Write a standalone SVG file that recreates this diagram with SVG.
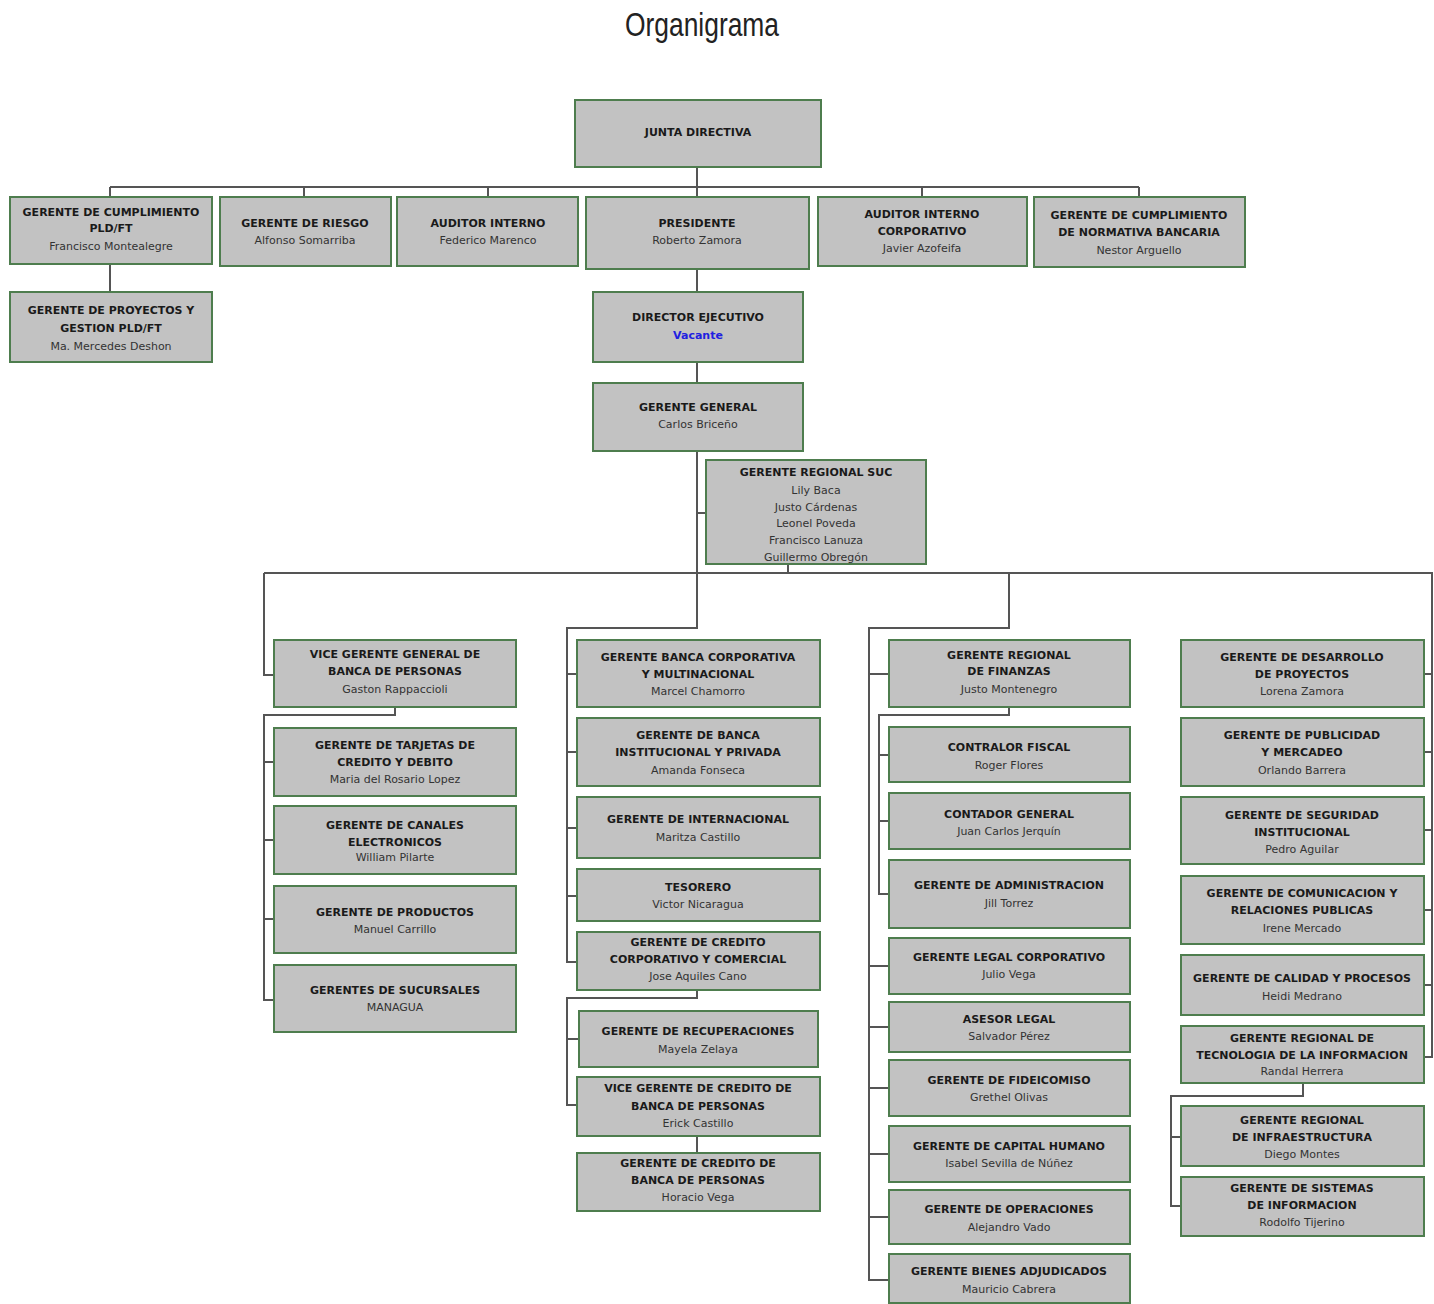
<svg xmlns="http://www.w3.org/2000/svg" width="1434" height="1304" viewBox="0 0 1434 1304">
<style>
.box{fill:#c2c2c2;stroke:#4e7d4e;stroke-width:2}
.t{font-family:"DejaVu Sans",Verdana,sans-serif;font-size:11px;font-weight:bold;fill:#1a1a1a;text-anchor:middle}
.n{font-family:"DejaVu Sans",Verdana,sans-serif;font-size:11px;fill:#333;text-anchor:middle}
.v{font-family:"DejaVu Sans",Verdana,sans-serif;font-size:11px;font-weight:bold;fill:#2020e0;text-anchor:middle}
.c{fill:none;stroke:#555;stroke-width:2}
</style>
<rect width="1434" height="1304" fill="#fff"/>
<text x="702" y="36" font-family="Liberation Sans, Arial, sans-serif" font-size="33" fill="#222" text-anchor="middle" textLength="154" lengthAdjust="spacingAndGlyphs">Organigrama</text>

<g id="connectors" class="c">
<path d="M110 187H1139M110 187V197M304 187V197M488 187V197M697 167V197M922 187V197M1139 187V197"/>
<path d="M110 264V292M697 269V292M697 362V383M697 451V573M697 513H706M788 563V573"/>
<path d="M264 573H1432V1057H1424"/>
<path d="M264 573V675H274M395 707V715H264V1000H274M264 762H274M264 840H274M264 919H274"/>
<path d="M697 573V628H567V962H577M567 674H577M567 752H577M567 828H577M567 896H577"/>
<path d="M697 990V998H567V1105H577M567 1039H579M697 1136V1153"/>
<path d="M1009 573V628H869V1280H889M869 674H889M869 966H889M869 1027H889M869 1088H889M869 1154H889M869 1217H889"/>
<path d="M1009 707V715H879V894H889M879 755H889M879 821H889"/>
<path d="M1432 674H1424M1432 752H1424M1432 830H1424M1432 910H1424M1432 985H1424"/>
<path d="M1303 1083V1096H1171V1206H1181M1171 1137H1181"/>
</g>

<g id="junta"><rect class="box" x="575" y="100" width="246" height="67"/><text class="t" x="698" y="136">JUNTA DIRECTIVA</text></g>

<g id="cumplimiento"><rect class="box" x="10" y="197" width="202" height="67"/><text class="t" x="111" y="216">GERENTE DE CUMPLIMIENTO</text><text class="t" x="111" y="232">PLD/FT</text><text class="n" x="111" y="250">Francisco Montealegre</text></g>
<g id="riesgo"><rect class="box" x="220" y="197" width="171" height="69"/><text class="t" x="305" y="227">GERENTE DE RIESGO</text><text class="n" x="305" y="244">Alfonso Somarriba</text></g>
<g id="auditor"><rect class="box" x="397" y="197" width="181" height="69"/><text class="t" x="488" y="227">AUDITOR INTERNO</text><text class="n" x="488" y="244">Federico Marenco</text></g>
<g id="presidente"><rect class="box" x="586" y="197" width="223" height="72"/><text class="t" x="697" y="227">PRESIDENTE</text><text class="n" x="697" y="244">Roberto Zamora</text></g>
<g id="auditor-corp"><rect class="box" x="818" y="197" width="209" height="69"/><text class="t" x="922" y="218">AUDITOR INTERNO</text><text class="t" x="922" y="235">CORPORATIVO</text><text class="n" x="922" y="252">Javier Azofeifa</text></g>
<g id="normativa"><rect class="box" x="1034" y="197" width="211" height="70"/><text class="t" x="1139" y="219">GERENTE DE CUMPLIMIENTO</text><text class="t" x="1139" y="236">DE NORMATIVA BANCARIA</text><text class="n" x="1139" y="254">Nestor Arguello</text></g>

<g id="proyectos-pld"><rect class="box" x="10" y="292" width="202" height="70"/><text class="t" x="111" y="314">GERENTE DE PROYECTOS Y</text><text class="t" x="111" y="332">GESTION PLD/FT</text><text class="n" x="111" y="350">Ma. Mercedes Deshon</text></g>

<g id="director"><rect class="box" x="593" y="292" width="210" height="70"/><text class="t" x="698" y="321">DIRECTOR EJECUTIVO</text><text class="v" x="698" y="339">Vacante</text></g>
<g id="gerente-general"><rect class="box" x="593" y="383" width="210" height="68"/><text class="t" x="698" y="411">GERENTE GENERAL</text><text class="n" x="698" y="428">Carlos Briceño</text></g>
<g id="regional-suc"><rect class="box" x="706" y="460" width="220" height="104"/><text class="t" x="816" y="476">GERENTE REGIONAL SUC</text><text class="n" x="816" y="494">Lily Baca</text><text class="n" x="816" y="511">Justo Cárdenas</text><text class="n" x="816" y="527">Leonel Poveda</text><text class="n" x="816" y="544">Francisco Lanuza</text><text class="n" x="816" y="561">Guillermo Obregón</text></g>

<g id="vice-personas"><rect class="box" x="274" y="640" width="242" height="67"/><text class="t" x="395" y="658">VICE GERENTE GENERAL DE</text><text class="t" x="395" y="675">BANCA DE PERSONAS</text><text class="n" x="395" y="693">Gaston Rappaccioli</text></g>
<g id="tarjetas"><rect class="box" x="274" y="728" width="242" height="68"/><text class="t" x="395" y="749">GERENTE DE TARJETAS DE</text><text class="t" x="395" y="766">CREDITO Y DEBITO</text><text class="n" x="395" y="783">Maria del Rosario Lopez</text></g>
<g id="canales"><rect class="box" x="274" y="806" width="242" height="68"/><text class="t" x="395" y="829">GERENTE DE CANALES</text><text class="t" x="395" y="846">ELECTRONICOS</text><text class="n" x="395" y="861">William Pilarte</text></g>
<g id="productos"><rect class="box" x="274" y="886" width="242" height="67"/><text class="t" x="395" y="916">GERENTE DE PRODUCTOS</text><text class="n" x="395" y="933">Manuel Carrillo</text></g>
<g id="sucursales"><rect class="box" x="274" y="965" width="242" height="67"/><text class="t" x="395" y="994">GERENTES DE SUCURSALES</text><text class="n" x="395" y="1011">MANAGUA</text></g>

<g id="banca-corporativa"><rect class="box" x="577" y="640" width="243" height="67"/><text class="t" x="698" y="661">GERENTE BANCA CORPORATIVA</text><text class="t" x="698" y="678">Y MULTINACIONAL</text><text class="n" x="698" y="695">Marcel Chamorro</text></g>
<g id="banca-institucional"><rect class="box" x="577" y="718" width="243" height="68"/><text class="t" x="698" y="739">GERENTE DE BANCA</text><text class="t" x="698" y="756">INSTITUCIONAL Y PRIVADA</text><text class="n" x="698" y="774">Amanda Fonseca</text></g>
<g id="internacional"><rect class="box" x="577" y="797" width="243" height="61"/><text class="t" x="698" y="823">GERENTE DE INTERNACIONAL</text><text class="n" x="698" y="841">Maritza Castillo</text></g>
<g id="tesorero"><rect class="box" x="577" y="869" width="243" height="52"/><text class="t" x="698" y="891">TESORERO</text><text class="n" x="698" y="908">Victor Nicaragua</text></g>
<g id="credito-corporativo"><rect class="box" x="577" y="932" width="243" height="58"/><text class="t" x="698" y="946">GERENTE DE CREDITO</text><text class="t" x="698" y="963">CORPORATIVO Y COMERCIAL</text><text class="n" x="698" y="980">Jose Aquiles Cano</text></g>
<g id="recuperaciones"><rect class="box" x="579" y="1011" width="239" height="56"/><text class="t" x="698" y="1035">GERENTE DE RECUPERACIONES</text><text class="n" x="698" y="1053">Mayela Zelaya</text></g>
<g id="vice-credito"><rect class="box" x="577" y="1077" width="243" height="59"/><text class="t" x="698" y="1092">VICE GERENTE DE CREDITO DE</text><text class="t" x="698" y="1110">BANCA DE PERSONAS</text><text class="n" x="698" y="1127">Erick Castillo</text></g>
<g id="credito-personas"><rect class="box" x="577" y="1153" width="243" height="58"/><text class="t" x="698" y="1167">GERENTE DE CREDITO DE</text><text class="t" x="698" y="1184">BANCA DE PERSONAS</text><text class="n" x="698" y="1201">Horacio Vega</text></g>

<g id="finanzas"><rect class="box" x="889" y="640" width="241" height="67"/><text class="t" x="1009" y="659">GERENTE REGIONAL</text><text class="t" x="1009" y="675">DE FINANZAS</text><text class="n" x="1009" y="693">Justo Montenegro</text></g>
<g id="contralor"><rect class="box" x="889" y="727" width="241" height="55"/><text class="t" x="1009" y="751">CONTRALOR FISCAL</text><text class="n" x="1009" y="769">Roger Flores</text></g>
<g id="contador"><rect class="box" x="889" y="793" width="241" height="56"/><text class="t" x="1009" y="818">CONTADOR GENERAL</text><text class="n" x="1009" y="835">Juan Carlos Jerquín</text></g>
<g id="administracion"><rect class="box" x="889" y="860" width="241" height="68"/><text class="t" x="1009" y="889">GERENTE DE ADMINISTRACION</text><text class="n" x="1009" y="907">Jill Torrez</text></g>
<g id="legal"><rect class="box" x="889" y="938" width="241" height="56"/><text class="t" x="1009" y="961">GERENTE LEGAL CORPORATIVO</text><text class="n" x="1009" y="978">Julio Vega</text></g>
<g id="asesor"><rect class="box" x="889" y="1002" width="241" height="50"/><text class="t" x="1009" y="1023">ASESOR LEGAL</text><text class="n" x="1009" y="1040">Salvador Pérez</text></g>
<g id="fideicomiso"><rect class="box" x="889" y="1060" width="241" height="56"/><text class="t" x="1009" y="1084">GERENTE DE FIDEICOMISO</text><text class="n" x="1009" y="1101">Grethel Olivas</text></g>
<g id="capital"><rect class="box" x="889" y="1126" width="241" height="56"/><text class="t" x="1009" y="1150">GERENTE DE CAPITAL HUMANO</text><text class="n" x="1009" y="1167">Isabel Sevilla de Núñez</text></g>
<g id="operaciones"><rect class="box" x="889" y="1190" width="241" height="54"/><text class="t" x="1009" y="1213">GERENTE DE OPERACIONES</text><text class="n" x="1009" y="1231">Alejandro Vado</text></g>
<g id="bienes"><rect class="box" x="889" y="1254" width="241" height="49"/><text class="t" x="1009" y="1275">GERENTE BIENES ADJUDICADOS</text><text class="n" x="1009" y="1293">Mauricio Cabrera</text></g>

<g id="desarrollo"><rect class="box" x="1181" y="640" width="243" height="67"/><text class="t" x="1302" y="661">GERENTE DE DESARROLLO</text><text class="t" x="1302" y="678">DE PROYECTOS</text><text class="n" x="1302" y="695">Lorena Zamora</text></g>
<g id="publicidad"><rect class="box" x="1181" y="718" width="243" height="68"/><text class="t" x="1302" y="739">GERENTE DE PUBLICIDAD</text><text class="t" x="1302" y="756">Y MERCADEO</text><text class="n" x="1302" y="774">Orlando Barrera</text></g>
<g id="seguridad"><rect class="box" x="1181" y="797" width="243" height="67"/><text class="t" x="1302" y="819">GERENTE DE SEGURIDAD</text><text class="t" x="1302" y="836">INSTITUCIONAL</text><text class="n" x="1302" y="853">Pedro Aguilar</text></g>
<g id="comunicacion"><rect class="box" x="1181" y="876" width="243" height="68"/><text class="t" x="1302" y="897">GERENTE DE COMUNICACION Y</text><text class="t" x="1302" y="914">RELACIONES PUBLICAS</text><text class="n" x="1302" y="932">Irene Mercado</text></g>
<g id="calidad"><rect class="box" x="1181" y="955" width="243" height="60"/><text class="t" x="1302" y="982">GERENTE DE CALIDAD Y PROCESOS</text><text class="n" x="1302" y="1000">Heidi Medrano</text></g>
<g id="tecnologia"><rect class="box" x="1181" y="1026" width="243" height="57"/><text class="t" x="1302" y="1042">GERENTE REGIONAL DE</text><text class="t" x="1302" y="1059">TECNOLOGIA DE LA INFORMACION</text><text class="n" x="1302" y="1075">Randal Herrera</text></g>
<g id="infraestructura"><rect class="box" x="1181" y="1106" width="243" height="60"/><text class="t" x="1302" y="1124">GERENTE REGIONAL</text><text class="t" x="1302" y="1141">DE INFRAESTRUCTURA</text><text class="n" x="1302" y="1158">Diego Montes</text></g>
<g id="sistemas"><rect class="box" x="1181" y="1177" width="243" height="59"/><text class="t" x="1302" y="1192">GERENTE DE SISTEMAS</text><text class="t" x="1302" y="1209">DE INFORMACION</text><text class="n" x="1302" y="1226">Rodolfo Tijerino</text></g>
</svg>
